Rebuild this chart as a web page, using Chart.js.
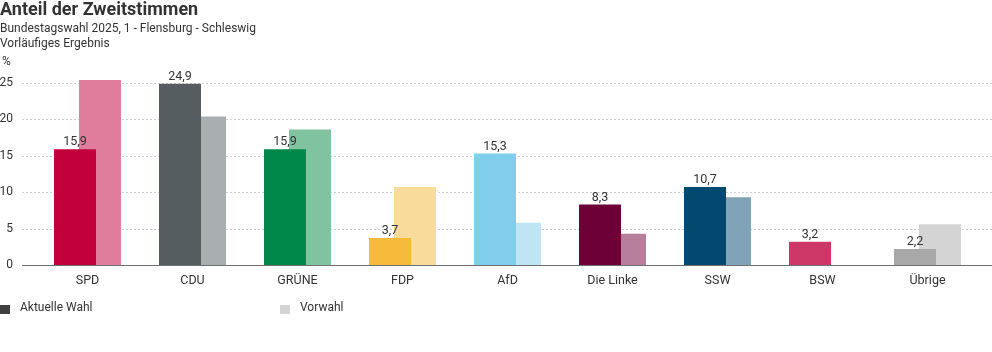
<!DOCTYPE html>
<html lang="de">
<head>
<meta charset="utf-8">
<script src="https://cdn.jsdelivr.net/npm/chart.js@4.4.1/dist/chart.umd.min.js"></script>
<style>
  html, body { margin: 0; padding: 0; background: #fff; }
  #wrap { width: 992px; height: 352px; }
</style>
</head>
<body>
<div id="wrap"><canvas id="chart"></canvas></div>
<script>
const parties = ['SPD', 'CDU', 'GRÜNE', 'FDP', 'AfD', 'Die Linke', 'SSW', 'BSW', 'Übrige'];
const current = [15.9, 24.9, 15.9, 3.7, 15.3, 8.3, 10.7, 3.2, 2.2];
const previous = [25.4, 20.4, 18.6, 10.7, 5.8, 4.3, 9.3, null, 5.6];
const yTicks = [0, 5, 10, 15, 20, 25];
const seriesNames = ['Aktuelle Wahl', 'Vorwahl'];

const currentColors = ['#c2003b', '#565d60', '#00874a', '#f6bb3b', '#80cdec', '#6e0038', '#03486f', '#cd3869', '#a8a8a8'];
const previousColors = ['#e07c9c', '#a9aeb0', '#7fc3a1', '#f9dc9c', '#bfe5f5', '#b77f9c', '#80a3b7', '#e69bb4', '#d4d4d4'];
const legendColors = ['#404040', '#d4d4d4'];

const FONT = 'Roboto, "Noto Sans", sans-serif';
const TEXT = '#333';

const fmt = v => String(v).replace('.', ',');

// dotted grid + axis line across the whole width
const gridPlugin = {
  id: 'grid',
  beforeDatasetsDraw(chart) {
    const y = chart.scales.y;
    const ctx = chart.ctx;
    ctx.save();
    ctx.strokeStyle = '#cfcfcf';
    ctx.lineWidth = 1;
    ctx.setLineDash([2, 2]);
    yTicks.forEach(t => {
      if (t === 0) return;
      const py = Math.round(y.getPixelForValue(t)) + 0.5;
      ctx.beginPath();
      ctx.moveTo(22, py);
      ctx.lineTo(chart.width, py);
      ctx.stroke();
    });
    ctx.restore();
  },
  afterDatasetsDraw(chart) {
    const y = chart.scales.y;
    const ctx = chart.ctx;
    const py = Math.round(y.getPixelForValue(0)) + 0.5;
    ctx.save();
    ctx.strokeStyle = '#707070';
    ctx.lineWidth = 1;
    ctx.beginPath();
    ctx.moveTo(22, py);
    ctx.lineTo(chart.width, py);
    ctx.stroke();

    // value labels above current bars
    ctx.fillStyle = TEXT;
    ctx.font = '12.5px ' + FONT;
    ctx.textAlign = 'center';
    ctx.textBaseline = 'alphabetic';
    chart.getDatasetMeta(0).data.forEach((bar, i) => {
      ctx.fillText(fmt(current[i]), bar.x, bar.y - 4);
    });

    // unit
    ctx.font = '12px ' + FONT;
    ctx.textAlign = 'left';
    ctx.textBaseline = 'middle';
    ctx.fillText('%', 2, 62);

    // legend
    const lx = [0, 280];
    seriesNames.forEach((name, i) => {
      ctx.fillStyle = legendColors[i];
      ctx.fillRect(lx[i], 305, 10, 9);
      ctx.fillStyle = TEXT;
      ctx.fillText(name, lx[i] + 20, 308);
    });
    ctx.restore();
  }
};

new Chart(document.getElementById('chart'), {
  type: 'bar',
  data: {
    labels: parties,
    datasets: [
      {
        label: seriesNames[0],
        data: current,
        backgroundColor: currentColors,
        categoryPercentage: 50 / 105,
        barPercentage: 1.68,
        clip: false
      },
      {
        label: seriesNames[1],
        data: previous,
        backgroundColor: previousColors,
        categoryPercentage: 50 / 105,
        barPercentage: 1.68,
        clip: false
      }
    ]
  },
  options: {
    responsive: true,
    maintainAspectRatio: false,
    animation: false,
    layout: { padding: { left: 0, right: 12, top: 0, bottom: 57 } },
    plugins: {
      legend: { display: false },
      tooltip: { enabled: false },
      title: {
        display: true,
        text: 'Anteil der Zweitstimmen',
        align: 'start',
        color: TEXT,
        font: { family: FONT, size: 18, weight: 'bold', lineHeight: 1.15 },
        padding: { top: 0, bottom: 0 }
      },
      subtitle: {
        display: true,
        text: ['Bundestagswahl 2025, 1 - Flensburg - Schleswig', 'Vorläufiges Ergebnis'],
        align: 'start',
        color: TEXT,
        font: { family: FONT, size: 12, lineHeight: 1.3 },
        padding: { top: 0, bottom: 31 }
      }
    },
    scales: {
      x: {
        grid: { display: false },
        border: { display: false },
        ticks: { color: TEXT, font: { family: FONT, size: 12.5 }, padding: 0, maxRotation: 0 },
        afterFit(scale) { scale.height = 30; }
      },
      y: {
        min: 0,
        max: 25,
        grid: { display: false },
        border: { display: false },
        ticks: { stepSize: 5, color: TEXT, font: { family: FONT, size: 12 }, padding: 14 },
        afterFit(scale) { scale.width = 35; }
      }
    }
  },
  plugins: [gridPlugin]
});
</script>
</body>
</html>
